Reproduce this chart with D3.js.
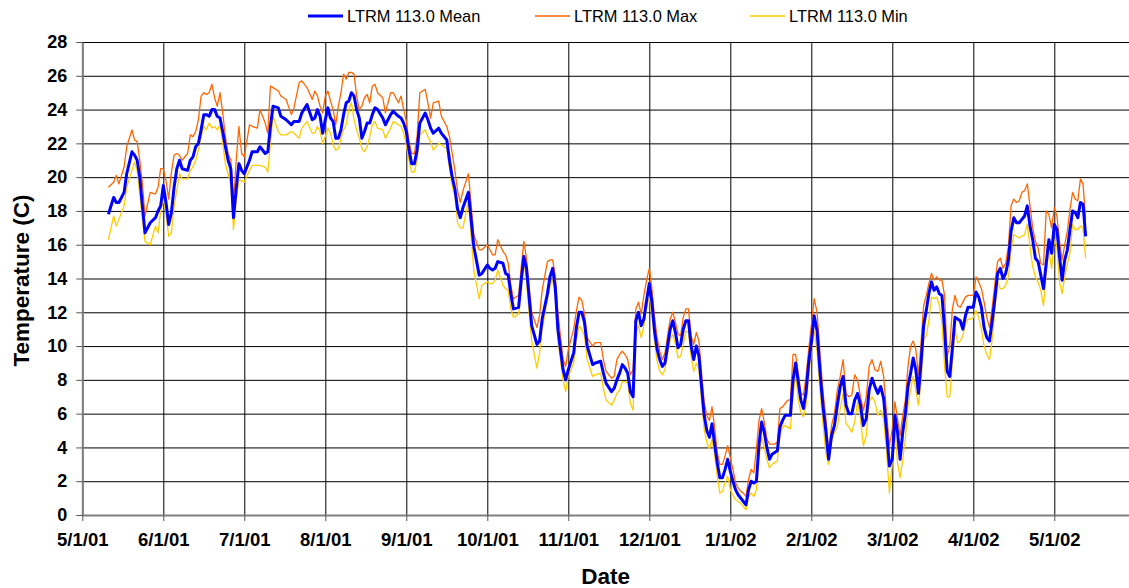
<!DOCTYPE html>
<html><head><meta charset="utf-8">
<script src="https://cdn.jsdelivr.net/npm/d3@7"></script>
<style>
body{margin:0;background:#fff}
svg{display:block}
text{font-family:Arial,"Liberation Sans",sans-serif}
</style>
</head><body>
<svg id="chart" width="1129" height="588"></svg>
<script>
const dates = [
"5/11/01","5/13/01","5/14/01","5/15/01","5/17/01","5/18/01","5/20/01","5/21/01","5/22/01","5/23/01","5/24/01","5/25/01","5/27/01","5/29/01","5/30/01","5/31/01",
"6/1/01","6/2/01","6/3/01","6/4/01","6/5/01","6/6/01","6/7/01","6/8/01","6/10/01","6/11/01","6/12/01","6/13/01","6/14/01","6/15/01","6/16/01","6/17/01","6/18/01","6/19/01","6/20/01","6/21/01","6/22/01","6/23/01","6/24/01","6/25/01","6/26/01","6/27/01","6/28/01","6/29/01","6/30/01",
"7/1/01","7/3/01","7/4/01","7/6/01","7/7/01","7/9/01","7/10/01","7/11/01","7/12/01","7/14/01","7/15/01","7/17/01","7/19/01","7/20/01","7/22/01","7/23/01","7/25/01","7/27/01","7/28/01","7/29/01","7/30/01","7/31/01",
"8/1/01","8/2/01","8/3/01","8/4/01","8/5/01","8/6/01","8/7/01","8/8/01","8/9/01","8/10/01","8/11/01","8/12/01","8/13/01","8/14/01","8/15/01","8/16/01","8/17/01","8/18/01","8/19/01","8/20/01","8/21/01","8/23/01","8/24/01","8/26/01","8/27/01","8/29/01","8/30/01","8/31/01",
"9/1/01","9/2/01","9/3/01","9/4/01","9/5/01","9/6/01","9/8/01","9/9/01","9/10/01","9/11/01","9/13/01","9/14/01","9/16/01","9/17/01","9/18/01","9/19/01","9/20/01","9/21/01","9/22/01","9/24/01","9/26/01","9/28/01","9/29/01",
"10/1/01","10/2/01","10/3/01","10/4/01","10/5/01","10/7/01","10/8/01","10/9/01","10/10/01","10/11/01","10/13/01","10/14/01","10/15/01","10/16/01","10/17/01","10/18/01","10/20/01","10/21/01","10/22/01","10/24/01","10/25/01","10/26/01","10/27/01","10/28/01","10/30/01","10/31/01",
"11/1/01","11/3/01","11/4/01","11/5/01","11/6/01","11/7/01","11/8/01","11/10/01","11/11/01","11/13/01","11/14/01","11/15/01","11/17/01","11/18/01","11/19/01","11/20/01","11/21/01","11/22/01","11/23/01","11/24/01","11/25/01","11/26/01","11/27/01","11/28/01","11/29/01","11/30/01",
"12/1/01","12/2/01","12/3/01","12/4/01","12/5/01","12/6/01","12/7/01","12/8/01","12/9/01","12/10/01","12/11/01","12/12/01","12/13/01","12/14/01","12/15/01","12/16/01","12/17/01","12/18/01","12/19/01","12/20/01","12/21/01","12/22/01","12/23/01","12/24/01","12/25/01","12/26/01","12/27/01","12/28/01","12/29/01","12/30/01","12/31/01",
"1/1/02","1/2/02","1/3/02","1/4/02","1/5/02","1/6/02","1/7/02","1/8/02","1/9/02","1/10/02","1/11/02","1/12/02","1/13/02","1/14/02","1/15/02","1/16/02","1/17/02","1/18/02","1/19/02","1/20/02","1/21/02","1/22/02","1/23/02","1/24/02","1/25/02","1/26/02","1/27/02","1/28/02","1/29/02","1/30/02","1/31/02",
"2/1/02","2/2/02","2/3/02","2/4/02","2/5/02","2/6/02","2/7/02","2/8/02","2/9/02","2/10/02","2/11/02","2/12/02","2/13/02","2/14/02","2/15/02","2/16/02","2/17/02","2/18/02","2/19/02","2/20/02","2/21/02","2/22/02","2/23/02","2/24/02","2/25/02","2/26/02","2/27/02","2/28/02",
"3/1/02","3/2/02","3/3/02","3/4/02","3/5/02","3/6/02","3/7/02","3/8/02","3/9/02","3/10/02","3/11/02","3/12/02","3/13/02","3/14/02","3/15/02","3/16/02","3/17/02","3/18/02","3/19/02","3/20/02","3/21/02","3/22/02","3/23/02","3/24/02","3/25/02","3/26/02","3/27/02","3/28/02","3/29/02","3/30/02","3/31/02",
"4/1/02","4/2/02","4/3/02","4/4/02","4/5/02","4/6/02","4/7/02","4/8/02","4/9/02","4/10/02","4/11/02","4/12/02","4/13/02","4/14/02","4/15/02","4/16/02","4/17/02","4/18/02","4/19/02","4/20/02","4/21/02","4/22/02","4/23/02","4/24/02","4/25/02","4/26/02","4/27/02","4/28/02","4/29/02","4/30/02",
"5/1/02","5/2/02","5/3/02","5/4/02","5/5/02","5/6/02","5/7/02","5/8/02","5/9/02","5/10/02","5/11/02","5/12/02","5/13/02"
];

const meanTemp = [
17.8,18.8,18.5,18.5,19.1,20.2,21.5,21.3,21.0,20.0,18.3,16.7,17.3,17.6,18.0,18.3,
19.5,18.5,17.2,17.9,19.4,20.5,21.0,20.5,20.4,21.0,21.2,21.8,22.0,22.8,23.7,23.7,23.6,24.0,24.0,23.6,23.5,22.7,21.8,21.0,20.5,17.6,19.3,20.8,20.4,
20.2,21.0,21.5,21.5,21.8,21.4,21.5,23.0,24.2,24.1,23.6,23.4,23.1,23.3,23.3,23.8,24.3,23.4,23.5,24.0,23.6,22.6,
23.4,24.1,23.5,23.3,22.3,22.3,22.8,23.7,24.4,24.5,25.0,24.8,24.0,23.5,22.3,22.7,23.2,23.2,23.7,24.1,24.0,23.5,23.1,23.7,23.9,23.6,23.5,23.2,
22.7,21.6,20.8,20.8,21.6,23.2,23.8,23.4,22.9,22.6,22.9,22.6,22.2,21.0,20.0,19.3,18.1,17.6,18.2,19.1,15.9,14.2,14.3,
14.8,14.6,14.5,14.6,15.0,14.9,14.3,14.2,13.1,12.2,12.3,13.9,15.3,14.6,12.9,11.2,10.1,10.3,11.6,13.1,14.1,14.6,13.5,11.0,8.6,8.0,
8.6,9.6,11.1,12.0,12.0,11.4,10.0,8.9,9.0,9.1,8.4,7.8,7.3,7.5,8.0,8.4,8.9,8.7,8.4,7.3,7.0,11.5,12.0,11.2,11.6,12.7,
13.7,12.6,10.9,9.8,9.2,8.8,9.0,10.0,11.0,11.5,10.8,9.9,10.1,11.0,11.5,11.5,10.0,9.2,10.0,9.4,7.6,5.9,5.0,4.6,5.4,4.2,3.1,2.2,2.2,2.7,3.3,
2.6,2.0,1.5,1.2,1.0,0.8,0.6,1.5,2.0,1.9,2.0,4.2,5.5,4.9,4.0,3.3,3.6,3.7,3.8,5.2,5.6,5.9,5.9,5.9,8.0,9.0,7.9,6.8,6.3,7.3,9.0,
10.2,11.8,10.9,8.5,6.5,5.0,3.3,4.7,5.3,6.5,7.6,8.2,6.5,6.0,6.0,6.8,7.2,6.5,5.3,5.7,7.4,8.1,7.6,7.2,7.6,6.9,5.0,2.9,
3.3,5.9,4.9,3.3,4.9,6.0,7.6,8.4,9.3,8.6,7.2,9.0,11.2,12.1,13.1,13.8,13.3,13.5,13.1,13.0,11.0,8.5,8.2,9.9,11.7,11.6,11.5,11.0,11.8,12.3,12.3,
12.3,13.2,12.9,12.3,11.1,10.5,10.3,11.5,12.8,14.3,14.6,14.0,14.3,15.1,16.8,17.6,17.3,17.3,17.5,17.7,18.3,17.1,16.3,15.2,15.0,14.2,13.4,14.9,16.3,15.5,
17.2,16.9,15.3,13.9,15.1,15.7,16.9,18.0,17.9,17.6,18.5,18.4,16.5
];

const maxTemp = [
19.4,19.7,20.1,19.6,20.6,21.8,22.8,22.2,22.1,21.0,19.6,17.7,19.1,19.0,19.4,20.5,
20.5,19.8,18.7,20.3,21.3,21.4,21.3,21.0,21.4,22.5,22.4,22.7,23.4,24.8,25.0,24.9,25.0,25.5,24.7,24.2,25.0,23.8,22.4,21.4,21.0,18.5,21.0,23.0,21.4,
21.2,23.1,23.0,22.9,24.0,23.2,22.6,25.4,25.3,25.1,24.8,24.6,23.7,24.1,25.6,25.7,25.3,24.6,25.1,24.8,24.2,23.8,
24.8,25.1,24.5,24.0,23.1,24.2,25.0,26.1,25.8,26.2,26.2,26.1,24.8,24.0,24.2,24.7,24.9,24.4,25.4,25.5,25.0,24.7,23.8,25.0,25.0,24.4,24.8,24.0,
23.3,22.1,21.4,21.4,22.4,25.0,25.2,24.4,23.5,24.4,24.5,23.6,23.0,22.4,21.4,20.4,19.2,18.5,19.2,20.2,16.6,15.7,15.7,
16.0,15.7,15.4,15.4,16.3,15.6,15.4,14.9,13.6,12.8,13.0,14.7,16.2,15.2,13.5,12.0,11.1,11.8,13.3,15.0,15.1,15.1,14.2,12.0,9.2,8.8,
9.8,11.0,12.1,12.9,12.7,11.9,10.5,10.0,10.2,10.2,9.2,8.5,8.1,8.2,9.2,9.5,9.7,9.5,9.2,8.3,8.6,12.2,12.6,11.9,13.0,13.9,
14.6,13.4,11.7,10.5,9.7,9.2,9.6,10.6,11.6,12.0,11.4,10.7,10.6,11.7,12.2,12.2,10.6,10.1,10.8,10.3,8.4,6.7,5.9,5.6,6.4,5.2,3.7,3.0,3.0,3.5,4.1,
3.4,2.7,1.9,1.6,1.4,1.3,1.1,2.1,2.7,2.5,3.9,5.6,6.3,5.5,4.5,4.2,4.2,4.2,4.3,6.3,6.4,6.6,6.8,6.8,9.5,9.5,8.4,7.2,7.1,8.2,9.8,
11.2,12.8,12.0,9.6,7.4,5.8,3.8,5.3,6.0,7.4,8.2,9.2,7.2,7.0,7.1,8.3,8.0,7.0,6.2,7.0,8.8,9.2,8.6,8.5,9.1,8.2,6.1,4.1,
5.1,6.7,5.7,4.7,5.9,6.8,8.8,10.0,10.3,9.8,8.3,10.2,12.4,13.0,13.7,14.3,13.9,14.1,13.9,13.9,13.0,9.4,10.0,12.2,13.0,12.4,12.3,12.6,12.9,13.0,13.0,
13.0,14.1,13.8,13.4,12.6,11.7,11.1,12.3,13.7,15.0,15.2,14.6,14.9,15.9,18.3,18.7,18.5,18.6,19.1,19.2,19.6,18.3,17.0,16.2,15.8,14.9,14.8,18.0,17.8,17.0,
18.2,17.7,16.2,15.1,16.0,16.8,18.1,19.1,18.7,18.6,19.9,19.6,17.5
];

const minTemp = [
16.3,17.7,17.1,17.5,18.3,19.4,20.4,20.9,20.4,19.0,17.5,16.2,16.0,17.1,16.7,18.0,
18.7,17.9,16.5,16.7,18.3,19.2,20.2,19.9,19.9,20.4,20.6,21.0,21.6,22.4,23.0,22.8,23.2,22.9,23.0,22.8,23.1,22.0,20.8,20.2,19.6,16.9,18.6,19.8,19.8,
19.7,20.4,20.7,20.7,20.7,20.6,20.3,22.0,23.6,22.7,22.5,22.5,22.7,22.6,22.3,22.9,23.3,22.6,22.6,23.0,22.7,22.0,
22.4,22.9,22.6,21.9,21.6,21.7,22.3,22.8,23.1,24.0,24.4,23.4,22.8,22.3,21.7,21.5,21.8,22.4,23.1,23.3,22.9,22.8,22.3,22.9,23.3,23.1,23.0,22.6,
21.9,21.0,20.3,20.3,21.0,22.5,22.8,22.4,22.1,21.6,22.0,21.9,21.7,20.5,19.5,18.9,17.3,17.0,17.0,18.6,14.5,12.8,13.6,
13.8,13.7,13.7,13.9,14.5,13.6,13.4,13.3,12.2,11.7,11.9,13.5,14.9,13.9,12.0,10.3,8.7,9.6,11.0,12.7,13.5,14.0,12.9,10.4,8.0,7.3,
8.2,9.0,10.4,11.2,11.0,10.6,9.2,8.2,8.3,8.4,7.5,6.8,6.5,6.8,7.2,7.4,7.9,7.9,7.8,6.6,6.2,10.8,11.2,10.5,11.2,12.3,
12.9,11.9,10.3,9.1,8.5,8.3,8.6,9.5,10.4,10.7,10.1,9.3,9.4,10.1,10.9,10.8,9.4,8.5,9.0,8.6,6.8,5.1,4.3,3.9,4.5,3.6,2.3,1.3,1.4,1.9,2.3,
1.5,1.2,0.9,0.8,0.7,0.5,0.3,1.1,1.3,1.1,1.5,3.4,4.6,4.0,3.3,2.8,3.0,3.1,3.2,4.8,5.2,5.3,5.2,5.1,7.0,8.6,6.8,6.1,5.8,6.5,8.2,
9.6,10.9,9.7,7.4,5.5,3.7,3.0,4.4,4.9,5.2,6.3,7.2,5.4,5.2,4.9,5.5,6.7,5.7,4.1,4.7,6.7,7.0,6.7,5.9,6.2,5.7,3.8,1.3,
3.1,5.1,3.1,2.2,3.3,4.5,6.4,7.4,8.2,7.4,6.5,7.8,10.4,10.6,11.5,12.9,12.8,12.9,12.4,11.4,8.8,7.0,7.0,9.0,11.0,10.2,10.3,10.6,11.3,11.6,11.6,
11.7,12.1,11.7,11.0,10.0,9.5,9.2,10.4,12.2,13.8,13.4,13.4,13.6,14.1,15.7,16.6,16.5,16.4,16.5,16.6,17.2,15.9,14.7,14.1,13.8,13.3,12.4,14.3,15.6,14.6,
16.3,15.9,13.8,13.1,14.1,14.9,15.5,17.2,16.9,16.9,17.1,17.0,15.2
];

const monthTicks = ["5/1/01","6/1/01","7/1/01","8/1/01","9/1/01","10/1/01","11/1/01","12/1/01","1/1/02","2/1/02","3/1/02","4/1/02","5/1/02"];
const axisEnd = "6/1/02";
const yTicks = [0,2,4,6,8,10,12,14,16,18,20,22,24,26,28];
const seriesNames = ["LTRM 113.0 Mean","LTRM 113.0 Max","LTRM 113.0 Min"];
const seriesColors = ["#0000FF","#FF6600","#FFCC00"];

(function draw() {
  const parse = d3.timeParse("%m/%d/%y");
  const fmt = d3.timeFormat("%-m/%-d/%y");
  const svg = d3.select("#chart");

  const pLeft = 82.3, pTop = 42, pBottom = 515, monthStep = 81;
  const monthDates = monthTicks.map(parse).concat([parse(axisEnd)]);
  const x = d3.scaleTime().domain(monthDates).range(monthDates.map((d, i) => pLeft + i * monthStep));
  const pRight = x(parse(axisEnd));
  const y = d3.scaleLinear().domain([0, 28]).range([pBottom, pTop]);
  const tickDates = monthTicks.map(parse);

  // horizontal gridlines
  const gy = svg.append("g").attr("transform", `translate(${pLeft},0)`)
    .call(d3.axisLeft(y).tickValues(yTicks).tickSize(-(pRight - pLeft)).tickFormat(""));
  gy.select(".domain").remove();
  gy.selectAll("line").attr("stroke", "#000").attr("stroke-width", 1);

  // vertical gridlines
  const gx = svg.append("g").attr("transform", `translate(0,${pBottom})`)
    .call(d3.axisBottom(x).tickValues(tickDates).tickSize(-(pBottom - pTop)).tickFormat(""));
  gx.select(".domain").remove();
  gx.selectAll("line").attr("stroke", "#000").attr("stroke-width", 1);

  // y axis
  const ay = svg.append("g").attr("transform", `translate(${pLeft},0)`)
    .call(d3.axisLeft(y).tickValues(yTicks).tickSize(6).tickPadding(9).tickSizeOuter(0));
  ay.select(".domain").attr("stroke", "#808080").attr("stroke-width", 2);
  ay.selectAll(".tick line").attr("stroke", "#555");
  ay.selectAll("text").attr("font-size", 18).attr("font-weight", "bold").attr("fill", "#000")
    .style("font-family", "Arial, 'Liberation Sans', sans-serif");

  // x axis
  const ax = svg.append("g").attr("transform", `translate(0,${pBottom})`)
    .call(d3.axisBottom(x).tickValues(tickDates).tickFormat(fmt).tickSize(6).tickPadding(12).tickSizeOuter(0));
  ax.select(".domain").attr("stroke", "#808080").attr("stroke-width", 2);
  ax.selectAll(".tick line").attr("stroke", "#555");
  ax.selectAll("text").attr("font-size", 18.5).attr("font-weight", "bold").attr("fill", "#000")
    .style("font-family", "Arial, 'Liberation Sans', sans-serif");

  // series
  const pts = (vals) => dates.map((d, i) => ({ date: parse(d), v: vals[i] }));
  const line = d3.line().x(d => x(d.date)).y(d => y(d.v));
  svg.append("path").datum(pts(minTemp)).attr("d", line)
    .attr("fill", "none").attr("stroke", seriesColors[2]).attr("stroke-width", 1.3).attr("stroke-linejoin", "round");
  svg.append("path").datum(pts(maxTemp)).attr("d", line)
    .attr("fill", "none").attr("stroke", seriesColors[1]).attr("stroke-width", 1.3).attr("stroke-linejoin", "round");
  svg.append("path").datum(pts(meanTemp)).attr("d", line)
    .attr("fill", "none").attr("stroke", seriesColors[0]).attr("stroke-width", 3).attr("stroke-linejoin", "round");

  // axis titles
  svg.append("text").attr("x", (pLeft + 1129) / 2).attr("y", 584).attr("text-anchor", "middle")
    .attr("font-size", 22.5).attr("font-weight", "bold").text("Date");
  svg.append("text").attr("transform", `translate(29,${(pTop + pBottom) / 2 + 2}) rotate(-90)`)
    .attr("text-anchor", "middle").attr("font-size", 22.5).attr("font-weight", "bold").text("Temperature (C)");

  // legend
  const legendX = [308, 535, 750];
  const lg = svg.append("g");
  seriesNames.forEach((name, i) => {
    lg.append("line").attr("x1", legendX[i]).attr("x2", legendX[i] + 35).attr("y1", 16).attr("y2", 16)
      .attr("stroke", seriesColors[i]).attr("stroke-width", i === 0 ? 2.8 : 1.3);
    lg.append("text").attr("x", legendX[i] + 39).attr("y", 21.8).attr("font-size", 16.4).text(name);
  });
})();
</script>
</body></html>
